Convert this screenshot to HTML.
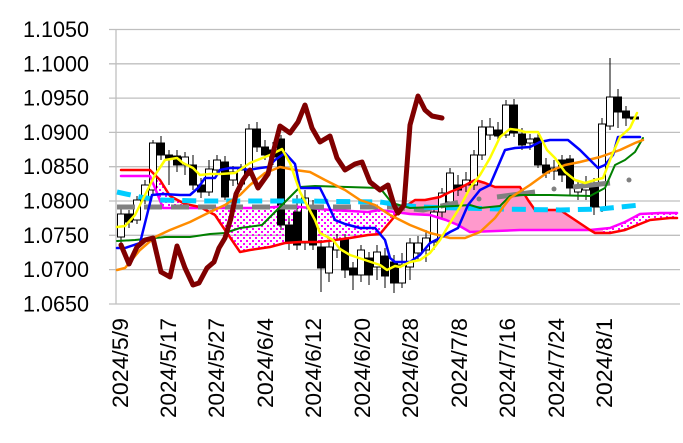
<!DOCTYPE html>
<html><head><meta charset="utf-8"><style>
html,body{margin:0;padding:0;background:#fff;}
svg{display:block;font-family:"Liberation Sans",sans-serif;}
</style></head><body>
<svg width="683" height="443" viewBox="0 0 683 443" xmlns="http://www.w3.org/2000/svg">
<defs>
<pattern id="dots" width="6" height="6" patternUnits="userSpaceOnUse">
<rect x="0" y="0" width="2" height="2" fill="#ff00ff"/>
<rect x="3" y="3" width="2" height="2" fill="#ff00ff"/>
</pattern>
<clipPath id="cA"><rect x="150" y="0" width="246" height="443"/><rect x="603" y="0" width="80" height="443"/></clipPath>
<clipPath id="cB"><rect x="396" y="0" width="207" height="443"/></clipPath>
</defs>
<g stroke="#bfbfbf" stroke-width="1.3">
<line x1="109" y1="29.5" x2="680" y2="29.5"/>
<line x1="109" y1="63.8" x2="680" y2="63.8"/>
<line x1="109" y1="98.1" x2="680" y2="98.1"/>
<line x1="109" y1="132.4" x2="680" y2="132.4"/>
<line x1="109" y1="166.7" x2="680" y2="166.7"/>
<line x1="109" y1="201" x2="680" y2="201"/>
<line x1="109" y1="235.3" x2="680" y2="235.3"/>
<line x1="109" y1="269.6" x2="680" y2="269.6"/>
<line x1="109" y1="304" x2="680" y2="304"/>
<line x1="116" y1="29.5" x2="116" y2="304"/>
</g>
<g font-size="22" fill="#000" text-anchor="end">
<text x="89" y="37" textLength="66" lengthAdjust="spacingAndGlyphs">1.1050</text>
<text x="89" y="71.3" textLength="66" lengthAdjust="spacingAndGlyphs">1.1000</text>
<text x="89" y="105.6" textLength="66" lengthAdjust="spacingAndGlyphs">1.0950</text>
<text x="89" y="139.9" textLength="66" lengthAdjust="spacingAndGlyphs">1.0900</text>
<text x="89" y="174.2" textLength="66" lengthAdjust="spacingAndGlyphs">1.0850</text>
<text x="89" y="208.5" textLength="66" lengthAdjust="spacingAndGlyphs">1.0800</text>
<text x="89" y="242.8" textLength="66" lengthAdjust="spacingAndGlyphs">1.0750</text>
<text x="89" y="277.1" textLength="66" lengthAdjust="spacingAndGlyphs">1.0700</text>
<text x="89" y="311.5" textLength="66" lengthAdjust="spacingAndGlyphs">1.0650</text>
</g>
<g font-size="22" fill="#000" text-anchor="end">
<text transform="translate(128,318) rotate(-90)" textLength="90" lengthAdjust="spacingAndGlyphs">2024/5/9</text>
<text transform="translate(176,318) rotate(-90)" textLength="100" lengthAdjust="spacingAndGlyphs">2024/5/17</text>
<text transform="translate(224,318) rotate(-90)" textLength="100" lengthAdjust="spacingAndGlyphs">2024/5/27</text>
<text transform="translate(273,318) rotate(-90)" textLength="90" lengthAdjust="spacingAndGlyphs">2024/6/4</text>
<text transform="translate(321,318) rotate(-90)" textLength="100" lengthAdjust="spacingAndGlyphs">2024/6/12</text>
<text transform="translate(370,318) rotate(-90)" textLength="100" lengthAdjust="spacingAndGlyphs">2024/6/20</text>
<text transform="translate(418,318) rotate(-90)" textLength="100" lengthAdjust="spacingAndGlyphs">2024/6/28</text>
<text transform="translate(467,318) rotate(-90)" textLength="90" lengthAdjust="spacingAndGlyphs">2024/7/8</text>
<text transform="translate(515,318) rotate(-90)" textLength="100" lengthAdjust="spacingAndGlyphs">2024/7/16</text>
<text transform="translate(564,318) rotate(-90)" textLength="100" lengthAdjust="spacingAndGlyphs">2024/7/24</text>
<text transform="translate(612,318) rotate(-90)" textLength="90" lengthAdjust="spacingAndGlyphs">2024/8/1</text>
</g>

<polygon clip-path="url(#cA)" fill="url(#dots)" points="121,170 130,170 150,170 160,180 170,196 185,204 200,207 215,215 225,230 240,252 250,250 270,247 285,243 300,242 320,242 335,240 350,238 368,235 380,234 400,210 415,200 425,200 440,197 450,192 460,188 475,180 485,183 495,187 520,187 528,200 535,210 560,210 575,220 590,230 595,233 610,233 625,230 640,224 650,220 660,219 670,218 677,218 677,213 660,213 640,214 625,222 610,228 590,230 520,230 470,232 458,225 446,220 430,215 410,214 395,212 380,210 368,212 350,211 330,210 290,206 260,208 170,208 163,208 155,188 150,176 121,176"/>
<polygon clip-path="url(#cB)" fill="#ff99cc" points="121,170 130,170 150,170 160,180 170,196 185,204 200,207 215,215 225,230 240,252 250,250 270,247 285,243 300,242 320,242 335,240 350,238 368,235 380,234 400,210 415,200 425,200 440,197 450,192 460,188 475,180 485,183 495,187 520,187 528,200 535,210 560,210 575,220 590,230 595,233 610,233 625,230 640,224 650,220 660,219 670,218 677,218 677,213 660,213 640,214 625,222 610,228 590,230 520,230 470,232 458,225 446,220 430,215 410,214 395,212 380,210 368,212 350,211 330,210 290,206 260,208 170,208 163,208 155,188 150,176 121,176"/>

<g stroke="#000" stroke-width="1">
<line x1="121" y1="208" x2="121" y2="245"/><rect x="117.5" y="214" width="7" height="23" fill="#fff"/>
<line x1="129" y1="210" x2="129" y2="228"/><rect x="125.5" y="214" width="7" height="8" fill="#000"/>
<line x1="137" y1="196" x2="137" y2="224"/><rect x="133.5" y="200" width="7" height="20" fill="#fff"/>
<line x1="145" y1="180" x2="145" y2="204"/><rect x="141.5" y="185" width="7" height="15" fill="#fff"/>
<line x1="153" y1="140" x2="153" y2="194"/><rect x="149.5" y="143" width="7" height="47" fill="#fff"/>
<line x1="161" y1="136" x2="161" y2="160"/><rect x="157.5" y="143" width="7" height="12" fill="#000"/>
<line x1="169" y1="150" x2="169" y2="185"/><rect x="165.5" y="155" width="7" height="3" fill="#000"/>
<line x1="177" y1="150" x2="177" y2="172"/><rect x="173.5" y="156" width="7" height="9" fill="#000"/>
<line x1="185" y1="152" x2="185" y2="175"/><rect x="181.5" y="157" width="7" height="8" fill="#fff"/>
<line x1="193" y1="155" x2="193" y2="190"/><rect x="189.5" y="165" width="7" height="20" fill="#000"/>
<line x1="201" y1="178" x2="201" y2="198"/><rect x="197.5" y="185" width="7" height="7" fill="#000"/>
<line x1="209" y1="160" x2="209" y2="196"/><rect x="205.5" y="169" width="7" height="23" fill="#fff"/>
<line x1="217" y1="155" x2="217" y2="175"/><rect x="213.5" y="160" width="7" height="10" fill="#fff"/>
<line x1="225" y1="156" x2="225" y2="200"/><rect x="221.5" y="162" width="7" height="35" fill="#000"/>
<line x1="233" y1="166" x2="233" y2="186"/><rect x="229.5" y="172" width="7" height="8" fill="#fff"/>
<line x1="241" y1="164" x2="241" y2="190"/><rect x="237.5" y="170" width="7" height="14" fill="#fff"/>
<line x1="249" y1="124" x2="249" y2="176"/><rect x="245.5" y="129" width="7" height="44" fill="#fff"/>
<line x1="257" y1="122" x2="257" y2="152"/><rect x="253.5" y="129" width="7" height="18" fill="#000"/>
<line x1="265" y1="140" x2="265" y2="160"/><rect x="261.5" y="147" width="7" height="8" fill="#000"/>
<line x1="273" y1="142" x2="273" y2="165"/><rect x="269.5" y="150" width="7" height="7" fill="#000"/>
<line x1="281" y1="135" x2="281" y2="230"/><rect x="277.5" y="139" width="7" height="86" fill="#000"/>
<line x1="289" y1="218" x2="289" y2="250"/><rect x="285.5" y="225" width="7" height="18" fill="#000"/>
<line x1="297" y1="195" x2="297" y2="250"/><rect x="293.5" y="212" width="7" height="33" fill="#000"/>
<line x1="305" y1="190" x2="305" y2="250"/><rect x="301.5" y="198" width="7" height="45" fill="#fff"/>
<line x1="313" y1="200" x2="313" y2="250"/><rect x="309.5" y="205" width="7" height="40" fill="#000"/>
<line x1="321" y1="240" x2="321" y2="292"/><rect x="317.5" y="247" width="7" height="21" fill="#000"/>
<line x1="329" y1="240" x2="329" y2="282"/><rect x="325.5" y="247" width="7" height="26" fill="#fff"/>
<line x1="337" y1="234" x2="337" y2="258"/><rect x="333.5" y="240" width="7" height="10" fill="#fff"/>
<line x1="345" y1="234" x2="345" y2="278"/><rect x="341.5" y="239" width="7" height="31" fill="#000"/>
<line x1="353" y1="262" x2="353" y2="290"/><rect x="349.5" y="268" width="7" height="7" fill="#000"/>
<line x1="361" y1="245" x2="361" y2="282"/><rect x="357.5" y="250" width="7" height="25" fill="#fff"/>
<line x1="369" y1="252" x2="369" y2="285"/><rect x="365.5" y="258" width="7" height="17" fill="#000"/>
<line x1="377" y1="245" x2="377" y2="280"/><rect x="373.5" y="252" width="7" height="15" fill="#fff"/>
<line x1="385" y1="248" x2="385" y2="288"/><rect x="381.5" y="256" width="7" height="20" fill="#000"/>
<line x1="394" y1="255" x2="394" y2="293"/><rect x="390.5" y="262" width="7" height="21" fill="#000"/>
<line x1="402" y1="253" x2="402" y2="288"/><rect x="398.5" y="265" width="7" height="18" fill="#fff"/>
<line x1="410" y1="238" x2="410" y2="280"/><rect x="406.5" y="243" width="7" height="24" fill="#fff"/>
<line x1="418" y1="236" x2="418" y2="260"/><rect x="414.5" y="243" width="7" height="10" fill="#fff"/>
<line x1="426" y1="230" x2="426" y2="262"/><rect x="422.5" y="238" width="7" height="12" fill="#fff"/>
<line x1="434" y1="205" x2="434" y2="250"/><rect x="430.5" y="212" width="7" height="30" fill="#fff"/>
<line x1="442" y1="188" x2="442" y2="218"/><rect x="438.5" y="193" width="7" height="19" fill="#fff"/>
<line x1="450" y1="168" x2="450" y2="206"/><rect x="446.5" y="173" width="7" height="29" fill="#fff"/>
<line x1="458" y1="175" x2="458" y2="196"/><rect x="454.5" y="185" width="7" height="5" fill="#000"/>
<line x1="466" y1="172" x2="466" y2="192"/><rect x="462.5" y="180" width="7" height="5" fill="#fff"/>
<line x1="474" y1="150" x2="474" y2="190"/><rect x="470.5" y="155" width="7" height="30" fill="#fff"/>
<line x1="482" y1="120" x2="482" y2="160"/><rect x="478.5" y="127" width="7" height="28" fill="#fff"/>
<line x1="490" y1="118" x2="490" y2="140"/><rect x="486.5" y="127" width="7" height="8" fill="#fff"/>
<line x1="498" y1="122" x2="498" y2="140"/><rect x="494.5" y="130" width="7" height="6" fill="#000"/>
<line x1="506" y1="100" x2="506" y2="138"/><rect x="502.5" y="105" width="7" height="30" fill="#fff"/>
<line x1="514" y1="99" x2="514" y2="137"/><rect x="510.5" y="105" width="7" height="28" fill="#000"/>
<line x1="522" y1="128" x2="522" y2="150"/><rect x="518.5" y="134" width="7" height="11" fill="#000"/>
<line x1="530" y1="134" x2="530" y2="150"/><rect x="526.5" y="139" width="7" height="4" fill="#fff"/>
<line x1="538" y1="134" x2="538" y2="168"/><rect x="534.5" y="138" width="7" height="27" fill="#000"/>
<line x1="546" y1="158" x2="546" y2="178"/><rect x="542.5" y="165" width="7" height="8" fill="#000"/>
<line x1="554" y1="160" x2="554" y2="180"/><rect x="550.5" y="168" width="7" height="3" fill="#fff"/>
<line x1="562" y1="155" x2="562" y2="182"/><rect x="558.5" y="160" width="7" height="15" fill="#000"/>
<line x1="570" y1="155" x2="570" y2="195"/><rect x="566.5" y="159" width="7" height="29" fill="#000"/>
<line x1="578" y1="180" x2="578" y2="200"/><rect x="574.5" y="188" width="7" height="4" fill="#fff"/>
<line x1="586" y1="176" x2="586" y2="200"/><rect x="582.5" y="184" width="7" height="6" fill="#fff"/>
<line x1="594" y1="178" x2="594" y2="215"/><rect x="590.5" y="183" width="7" height="24" fill="#000"/>
<line x1="602" y1="118" x2="602" y2="212"/><rect x="598.5" y="124" width="7" height="83" fill="#fff"/>
<line x1="610" y1="58" x2="610" y2="130"/><rect x="606.5" y="97" width="7" height="29" fill="#fff"/>
<line x1="618" y1="89" x2="618" y2="128"/><rect x="614.5" y="97" width="7" height="15" fill="#000"/>
<line x1="626" y1="106" x2="626" y2="126"/><rect x="622.5" y="111" width="7" height="7" fill="#000"/>
<line x1="634" y1="117" x2="634" y2="120"/><rect x="630.5" y="117" width="8" height="2" fill="#000"/>
</g>

<g fill="none" stroke-linejoin="round" stroke-linecap="round">
<polyline stroke="#ff00ff" stroke-width="2.5" points="121,176 150,176 155,188 163,208 170,208 260,208 290,206 330,210 350,211 368,212 380,210 395,212 410,214 430,215 446,220 458,225 470,232 520,230 590,230 610,228 625,222 640,214 660,213 677,213"/>
<polyline stroke="#ff0000" stroke-width="2.5" points="121,170 130,170 150,170 160,180 170,196 185,204 200,207 215,215 225,230 240,252 250,250 270,247 285,243 300,242 320,242 335,240 350,238 368,235 380,234 400,210 415,200 425,200 440,197 450,192 460,188 475,180 485,183 495,187 520,187 528,200 535,210 560,210 575,220 590,230 595,233 610,233 625,230 640,224 650,220 660,219 670,218 677,218"/>
<polyline stroke="#808080" stroke-width="5" stroke-dasharray="18,9" stroke-linecap="butt" points="117,207 390,207 423,210 460,202"/>
<polyline stroke="#808080" stroke-width="5" stroke-linecap="butt" points="497,197 535,192"/>
<polyline stroke="#808080" stroke-width="5" stroke-linecap="butt" points="573,187 610,183"/>
<circle cx="479" cy="199" r="2.5" fill="#808080" stroke="none"/>
<circle cx="554" cy="189" r="2.5" fill="#808080" stroke="none"/>
<circle cx="629" cy="180" r="2.5" fill="#808080" stroke="none"/>
<polyline stroke="#00ccff" stroke-width="5" stroke-dasharray="14,8" stroke-linecap="butt" points="117,192 140,197 160,200 200,201 300,201 380,202 400,205 420,207 460,208 500,209 560,210 600,209 640,205"/>
<polyline stroke="#008000" stroke-width="2" points="117,241 135,240 165,237 190,237 210,234 225,233 240,228 262,225 275,212 290,197 300,187 315,186 380,188 392,203 410,208 455,206 470,205 480,208 500,206 510,196 520,195 550,195 590,196 605,188 615,165 625,160 635,152 643,138"/>
<polyline stroke="#ff8c00" stroke-width="2.5" points="117,270 125,268 140,250 155,237 170,230 190,222 210,212 225,205 240,195 250,185 265,173 280,167 295,170 310,172 325,180 345,190 360,200 375,205 390,215 410,225 430,233 450,238 465,238 480,232 495,218 510,198 530,185 548,172 565,165 580,162 600,157 620,150 635,143 643,140"/>
<polyline stroke="#0000ff" stroke-width="2.5" points="117,248 125,248 140,243 152,195 163,194 180,195 190,195 198,188 205,178 215,178 220,170 230,168 240,168 248,170 260,168 268,167 275,160 285,153 295,164 300,188 320,188 325,198 335,220 345,224 360,228 375,228 385,240 390,258 395,262 410,262 420,255 430,243 440,238 450,232 458,228 468,205 480,190 490,185 505,150 515,148 530,147 540,142 550,140 568,140 580,150 590,160 598,168 605,165 613,155 618,137 640,137"/>
<polyline stroke="#ffff00" stroke-width="2.5" points="117,227 125,226 135,215 145,195 155,175 165,160 177,158 183,163 193,168 200,175 210,174 220,174 235,173 250,163 270,155 282,149 290,163 300,192 315,220 320,233 333,240 340,249 350,255 365,260 380,265 387,270 395,266 400,267 410,262 420,260 430,253 440,240 450,223 460,207 470,188 480,175 490,158 500,137 510,129 518,130 525,132 538,132 547,150 555,158 565,172 575,180 585,183 595,180 603,178 612,155 620,137 630,128 637,113"/>
<polyline stroke="#800000" stroke-width="5" points="121,245 129,264 137,247 145,240 153,238 161,272 170,277 177,246 185,268 193,285 199,283 207,268 214,262 219,248 225,238 231,218 236,194 243,180 250,170 258,188 268,174 273,153 280,126 290,133 298,122 305,105 312,128 320,142 330,136 337,158 345,170 355,164 362,162 370,182 380,190 388,185 394,205 398,213 404,205 410,125 418,96 425,110 432,116 442,118"/>
</g>
</svg>
</body></html>
